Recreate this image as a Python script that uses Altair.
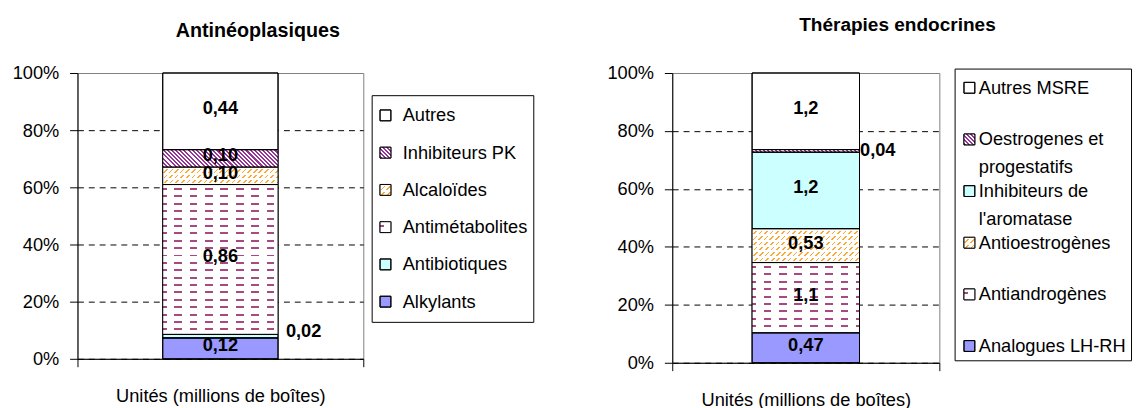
import math
import textwrap
import altair as alt
import pandas as pd

FONT = "Liberation Sans"

# ---------------- data ----------------
LEFT_TITLE = "Antinéoplasiques"
LEFT_CATEGORIES = ["Alkylants", "Antibiotiques", "Antimétabolites", "Alcaloïdes", "Inhibiteurs PK", "Autres"]
LEFT_VALUES = [0.12, 0.02, 0.86, 0.10, 0.10, 0.44]

RIGHT_TITLE = "Thérapies endocrines"
RIGHT_CATEGORIES = ["Analogues LH-RH", "Antiandrogènes", "Antioestrogènes",
                    "Inhibiteurs de l'aromatase", "Oestrogenes et progestatifs", "Autres MSRE"]
RIGHT_VALUES = [0.47, 1.1, 0.53, 1.2, 0.04, 1.2]

X_LABEL = "Unités (millions de boîtes)"
Y_TICKS = [0, 0.2, 0.4, 0.6, 0.8, 1.0]

# ---------------- styles ----------------
LEFT_FILLS = ["#9999FF", "#CCFFFF", "dash", "orange", "purple", "#FFFFFF"]
RIGHT_FILLS = ["#9999FF", "dash", "orange", "#CCFFFF", "purple", "#FFFFFF"]
PATTERNS = ("dash", "orange", "purple")

CLEAR = "rgba(255,255,255,0)"
WHITE = "#ffffff"
PURPLE = "#993399"
PLUM = "#a84a82"
ORANGE = "#ffa733"


def stops(length, period, thick, fg, bg, phase=0.0):
    out = [alt.GradientStop(offset=0, color=bg)]
    pos = phase - period
    while pos < length:
        s = max(pos, 0.0)
        e = min(pos + thick, length)
        if e > s:
            s_, e_ = round(s / length, 5), round(e / length, 5)
            out += [alt.GradientStop(offset=s_, color=bg), alt.GradientStop(offset=s_, color=fg),
                    alt.GradientStop(offset=e_, color=fg), alt.GradientStop(offset=e_, color=bg)]
        pos += period
    out.append(alt.GradientStop(offset=1, color=bg))
    return out


def grad_rows(w, h, period, thick, fg, bg, phase=0.0):
    return alt.LinearGradient(gradient="linear", x1=0, y1=0, x2=0, y2=1,
                              stops=stops(h, period, thick, fg, bg, phase))


def grad_cols(w, h, period, thick, fg, bg, phase=0.0):
    return alt.LinearGradient(gradient="linear", x1=0, y1=0, x2=1, y2=0,
                              stops=stops(w, period, thick, fg, bg, phase))


def grad_lines(w, h, a, b, period, thick, fg, bg, phase=0.0):
    """Stripes along the iso-lines a*X + b*Y = C (pixel space)."""
    A, B = a * w, b * h
    L = A + abs(B)
    s = L / (A * A + B * B)
    if b >= 0:
        x1, y1, x2, y2 = 0, 0, s * A, s * B
    else:
        x1, y1, x2, y2 = 0, 1, s * A, 1 + s * B
    return alt.LinearGradient(gradient="linear", x1=x1, y1=y1, x2=x2, y2=y2,
                              stops=stops(L, period, thick, fg, bg, phase))


def pattern_fills(kind, w, h):
    if kind == "purple":   # "\" hatch
        return [grad_lines(w, h, 1, -1, 4.2, 2.1, PURPLE, WHITE)]
    if kind == "orange":   # broken "/" hatch
        return [grad_lines(w, h, 1, 1, 5.7, 1.7, ORANGE, WHITE), grad_rows(w, h, 5.5, 2.0, WHITE, CLEAR, 0.0)]
    if kind == "dash":     # horizontal dashes
        return [grad_rows(w, h, 7.5, 2.0, PLUM, WHITE, 3.5),
                grad_cols(w, h, 15.6, 7.8, WHITE, CLEAR, 4.0)]
    return []


def panel(title, cats, vals, fills, cfg):
    n = len(cats)
    total = sum(vals)
    df = pd.DataFrame({
        "cat": cats,
        "value": vals,
        "order": list(range(n)),
        "xcat": [X_LABEL] * n,
        "leg": [cfg["wrap"](c) for c in cats],
    })
    PW, PH, BW = cfg["w"], cfg["h"], cfg["bw"]

    xaxis = alt.Axis(labelAngle=0, labelFontSize=18.5, labelColor="black", labelFont=FONT,
                     tickSize=8, tickColor="black", tickBand="extent", domainColor="black",
                     labelPadding=20, labelLimit=500, title=None, grid=False)
    yaxis = alt.Axis(values=Y_TICKS, format=".0%", labelFontSize=18.5, labelColor="black",
                     labelFont=FONT, tickSize=8, tickColor="black", labelPadding=11,
                     domainColor="black", grid=True, gridColor="black", gridDash=[6, 5],
                     gridOpacity={"condition": {"test": "datum.value >= 1", "value": 0}, "value": 1},
                     title=None)
    X = alt.X("xcat:N", title=None, scale=alt.Scale(paddingInner=0, paddingOuter=0), axis=xaxis)
    yscale = alt.Scale(domain=[0, 1], nice=False)

    def Y(field):
        return alt.Y(field, title=None, scale=yscale, axis=yaxis)

    base_colors = [f if f not in PATTERNS else WHITE for f in fills]
    color = alt.Color("cat:N", scale=alt.Scale(domain=cats, range=base_colors), legend=None)

    stacked = alt.Chart(df).transform_stack(
        stack="value", groupby=["xcat"], as_=["y0", "y1"], offset="normalize",
        sort=[alt.SortField("order", order="ascending")]
    ).transform_calculate(
        ymid="(datum.y0 + datum.y1) / 2",
        frac="datum.y1 - datum.y0",
        lab=f"replace(format(datum.value, '{cfg['fmt']}'), '.', ',')",
    )

    layers = [stacked.mark_bar(size=BW, stroke="black", strokeWidth=1).encode(
        x=X, y=Y("y0:Q"), y2="y1:Q", color=color)]
    for i, (v, f) in enumerate(zip(vals, fills)):
        if f in PATTERNS:
            for g in pattern_fills(f, BW, v / total * PH):
                layers.append(stacked.transform_filter(alt.datum.order == i).mark_bar(
                    size=BW, fill=g, strokeWidth=0).encode(x=X, y=Y("y0:Q"), y2="y1:Q"))
    layers.append(stacked.mark_bar(size=BW, fillOpacity=0, stroke="black", strokeWidth=1).encode(
        x=X, y=Y("y0:Q"), y2="y1:Q"))

    # value labels
    layers.append(stacked.transform_filter("datum.frac >= 0.03").mark_text(
        font=FONT, fontSize=18.5, fontWeight="bold", color="black", align="center", baseline="middle",
        dy=-3
    ).encode(x=X, y=Y("ymid:Q"), text="lab:N"))
    layers.append(stacked.transform_filter("datum.frac < 0.03").mark_text(
        font=FONT, fontSize=18.5, fontWeight="bold", color="black", align="left", baseline="middle",
        dx=cfg["out_dx"], dy=cfg["out_dy"]
    ).encode(x=X, y=Y("ymid:Q"), text="lab:N"))

    # legend
    lg = cfg["legend"]
    layers.append(alt.Chart(alt.Data(values=[{}])).mark_rect(fill="white", stroke="black", strokeWidth=1).encode(
        x=alt.value(lg["x0"]), x2=alt.value(lg["x1"]), y=alt.value(lg["y0"]), y2=alt.value(lg["y1"])))
    leg = alt.Chart(df).transform_calculate(ly=f"{lg['top']} + ({n - 1} - datum.order) * {lg['pitch']}")
    LY = alt.Y("ly:Q", scale=None, axis=None)
    layers.append(leg.mark_square(size=121, opacity=1, stroke="black", strokeWidth=1).encode(
        x=alt.value(lg["sx"]), y=LY, color=color))
    for i, f in enumerate(fills):
        if f in PATTERNS:
            for g in pattern_fills(f, 11, 11):
                layers.append(leg.transform_filter(alt.datum.order == i).mark_square(
                    size=121, opacity=1, fill=g, strokeWidth=0).encode(x=alt.value(lg["sx"]), y=LY))
    layers.append(leg.mark_square(size=121, opacity=1, fillOpacity=0, stroke="black", strokeWidth=1).encode(
        x=alt.value(lg["sx"]), y=LY))
    layers.append(leg.mark_text(font=FONT, fontSize=18.5, color="black", align="left", baseline="middle",
                                lineBreak="\n", lineHeight=28).encode(
        x=alt.value(lg["tx"]), y=LY, text="leg:N"))

    return alt.layer(*layers).properties(
        width=PW, height=PH,
        title=alt.TitleParams(text=title, font=FONT, fontSize=cfg["tfs"], fontWeight="bold", color="black",
                              anchor="middle", frame="group", dx=cfg["tdx"], offset=cfg["toff"]),
    )


left = panel(LEFT_TITLE, LEFT_CATEGORIES, LEFT_VALUES, LEFT_FILLS, {
    "w": 290, "h": 290, "bw": 117, "fmt": ".2f", "wrap": lambda s: s,
    "out_dx": 66.5, "out_dy": -5, "tdx": 38, "toff": 24, "tfs": 20,
    "legend": {"x0": 299, "x1": 463, "y0": 23, "y1": 253, "top": 43, "pitch": 37.8, "sx": 312.5, "tx": 330},
})
right = panel(RIGHT_TITLE, RIGHT_CATEGORIES, RIGHT_VALUES, RIGHT_FILLS, {
    "w": 271, "h": 294, "bw": 109, "fmt": ".2~f", "wrap": lambda s: textwrap.fill(s, 15),
    "out_dx": 55, "out_dy": -1, "tdx": 93, "toff": 29, "tfs": 19.3,
    "legend": {"x0": 287, "x1": 466, "y0": -4, "y1": 292, "top": 15, "pitch": 52.4, "sx": 301.5, "tx": 311},
})

chart = alt.hconcat(left, right, spacing=72.5).resolve_scale(color="independent").properties(
    padding={"left": 3.5, "top": 5, "right": 0, "bottom": 0}
).configure_view(stroke="#808080", strokeWidth=1)

chart.save("out.html", embed_options={"renderer": "svg", "actions": False})
